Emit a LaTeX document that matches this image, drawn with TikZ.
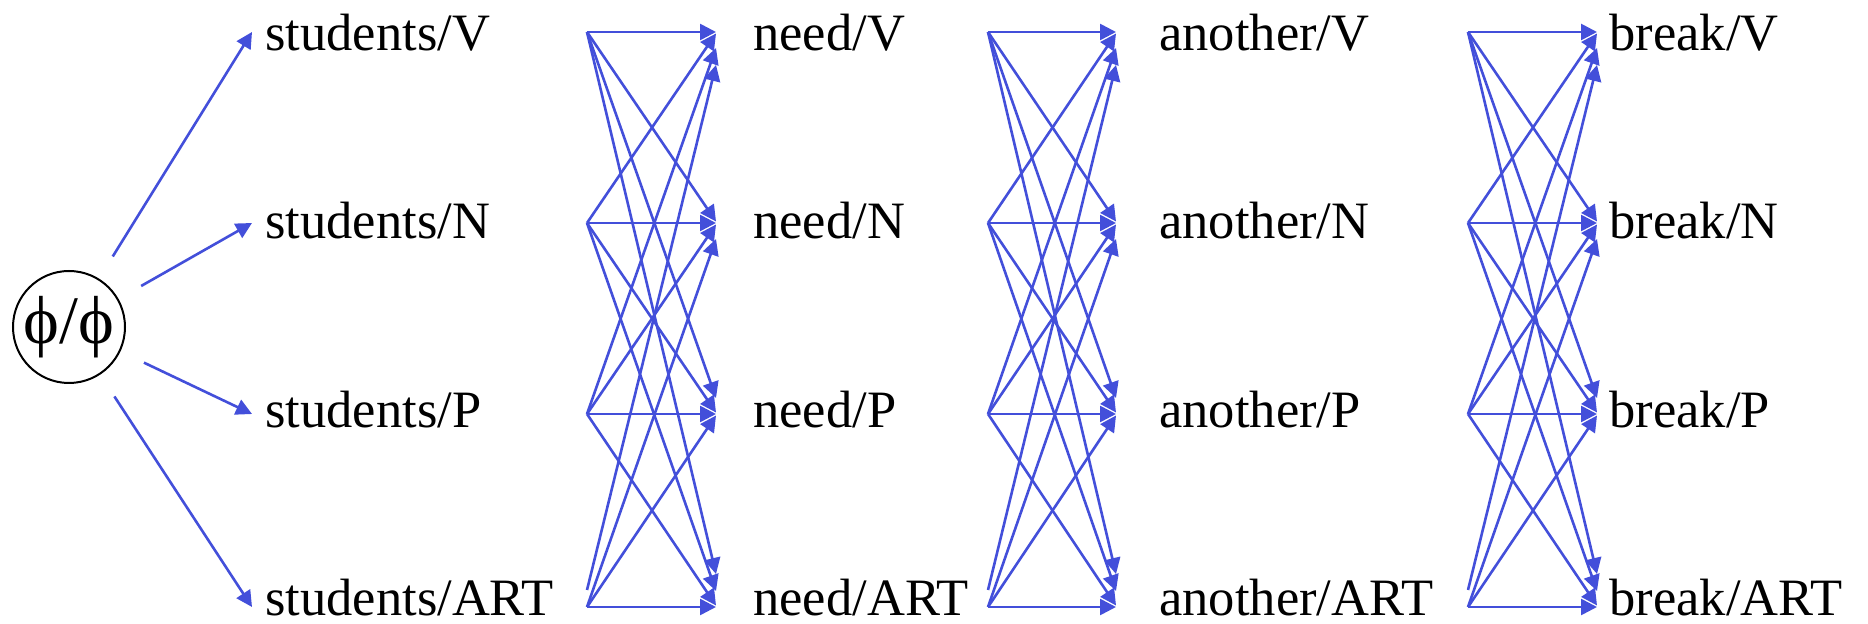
\documentclass[tikz,border=0pt]{standalone}
\usepackage{fontspec}
\setmainfont{Liberation Serif}
\usetikzlibrary{arrows.meta,calc}
\definecolor{edgeblue}{RGB}{67,79,218}
\begin{document}
\begin{tikzpicture}[x=0.5pt,y=-0.5pt,
  tag/.style={anchor=base west, inner sep=0pt, font=\fontsize{26.25}{30}\selectfont},
  link/.style={draw=edgeblue, line width=1.3pt, -{Triangle[length=8pt,width=8pt]}},
  start/.style={circle, draw, line width=1pt, minimum size=56pt, inner sep=0pt,
                outer sep=13.5pt, font=\fontsize{34}{38}\selectfont}]
\useasboundingbox (0,0) rectangle (1868,624);

% word/tag labels and the points where arrows arrive
\foreach \c/\word/\inx/\tx in {0/students/252/265, 1/need/716/753, 2/another/1116/1159, 3/break/1597/1609}
  \foreach \r/\lab/\ly/\by in {1/V/32/51, 2/N/223/239, 3/P/414/428, 4/ART/607/616} {
    \node[tag] (w\c-\r) at (\tx,\by) {\word/\lab};
    \coordinate (in\c-\r) at (\inx,\ly);
  }

% points where arrows leave a column
\foreach \c/\ox in {0/587, 1/988, 2/1468} {
  \foreach \r/\ly in {1/32, 2/223, 3/414, 4/607}
    \coordinate (out\c-\r) at (\ox,\ly);
  \coordinate (low\c) at (\ox,590);
}

% start state
\node[start] (phi) at (69,327) {ϕ/ϕ};
\foreach \r in {1,...,4}
  \draw[link] (phi) -- (in0-\r);

% full transitions between neighbouring columns
\foreach \p/\c in {0/1, 1/2, 2/3}
  \foreach \i in {1,...,4}
    \foreach \j in {1,...,4} {
      \pgfmathtruncatemacro\k{\i-\j+3}
      \pgfmathsetmacro\off{{-33,-16,-1.5,0,1.5,16,33}[\k]}
      \ifnum\i=4 \ifnum\j=1 \def\src{low\p}\else\def\src{out\p-\i}\fi\else\def\src{out\p-\i}\fi
      \draw[link] (\src) -- ($(in\c-\j)+(0,\off)$);
    }
\end{tikzpicture}
\end{document}
